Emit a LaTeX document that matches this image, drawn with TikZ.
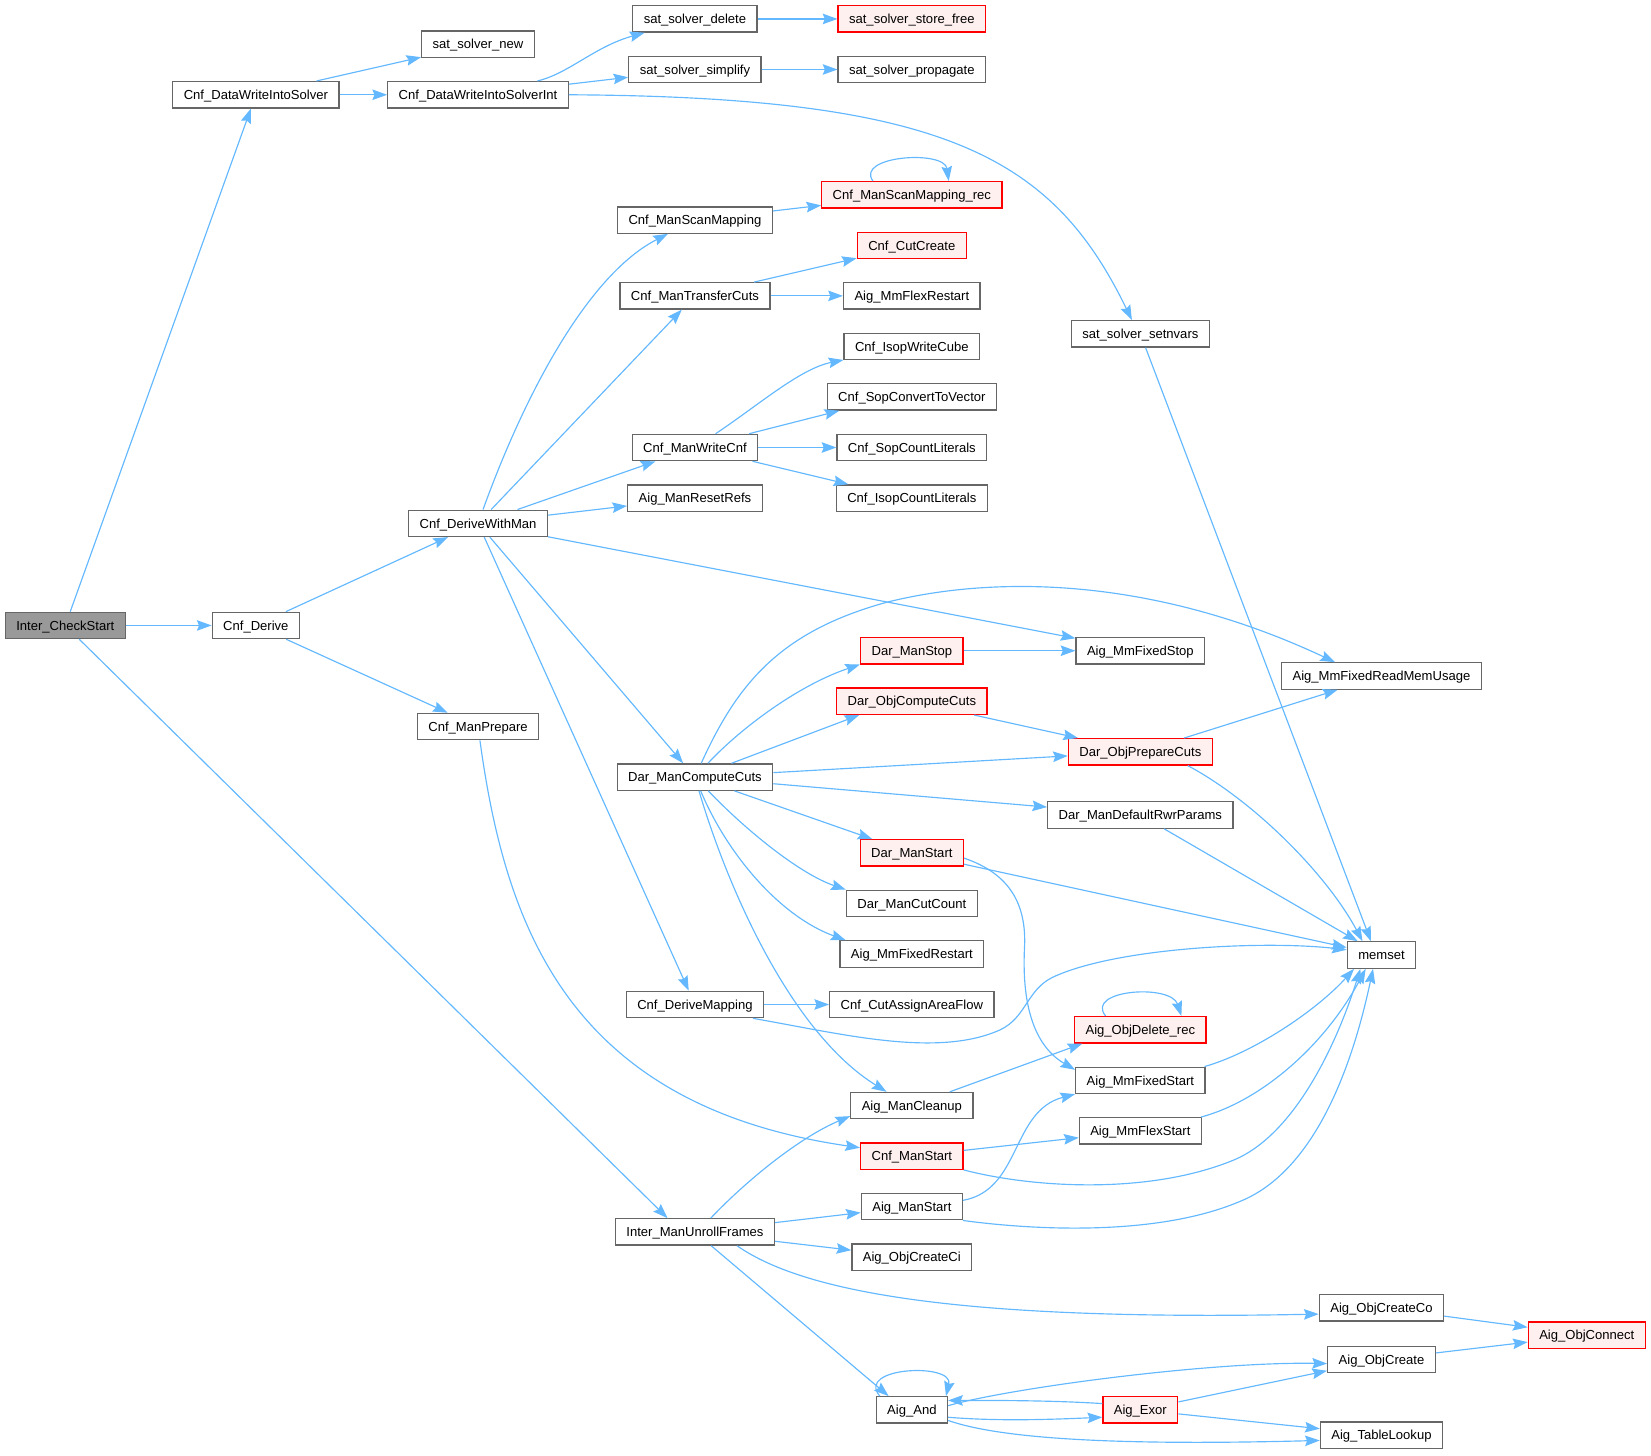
\documentclass[tikz,border=0pt]{standalone}
\usepackage{fontspec}
\setmainfont{Liberation Sans}
\usetikzlibrary{calc,arrows.meta}
\definecolor{edgeblue}{HTML}{63B8FF}
\definecolor{boxgray}{HTML}{666666}
\definecolor{boxred}{HTML}{FF0000}
\definecolor{redfill}{HTML}{FFF0F0}
\definecolor{grayfill}{HTML}{999999}
\tikzset{
  box/.style={draw=boxgray, line width=0.6pt, fill=white, font={\fontsize{6.2pt}{7pt}\selectfont},
    inner xsep=5.2pt, inner ysep=0pt, minimum height=12.5pt, text height=4.45pt, text depth=0pt},
  redbox/.style={box, draw=boxred, fill=redfill},
  graybox/.style={box, fill=grayfill},
  e/.style={draw=edgeblue, line width=0.55pt, -{Stealth[length=7pt,width=5pt,inset=1pt]}},
}
\begin{document}
\begin{tikzpicture}[x=0.5pt,y=-0.5pt]
\useasboundingbox (0,0) rectangle (1568,1382);
% nodes
\node[graybox] (ics) at (62,594) {Inter\_CheckStart};
\node[box] (dwis) at (243,90) {Cnf\_DataWriteIntoSolver};
\node[box] (ssnew) at (454,42) {sat\_solver\_new};
\node[box] (dwisi) at (454,90) {Cnf\_DataWriteIntoSolverInt};
\node[box] (ssdel) at (660,18) {sat\_solver\_delete};
\node[redbox] (sssf) at (866,18) {sat\_solver\_store\_free};
\node[box] (sssimp) at (660,66) {sat\_solver\_simplify};
\node[box] (ssprop) at (866,66) {sat\_solver\_propagate};
\node[redbox] (scanrec) at (866,185) {Cnf\_ManScanMapping\_rec};
\node[box] (cnfscan) at (660,209) {Cnf\_ManScanMapping};
\node[redbox] (cutcreate) at (866,233) {Cnf\_CutCreate};
\node[box] (transfer) at (660,281) {Cnf\_ManTransferCuts};
\node[box] (flexrestart) at (866,281) {Aig\_MmFlexRestart};
\node[box] (setnvars) at (1083,317) {sat\_solver\_setnvars};
\node[box] (isopwrite) at (866,329) {Cnf\_IsopWriteCube};
\node[box] (sopconv) at (866,377) {Cnf\_SopConvertToVector};
\node[box] (writecnf) at (660,425) {Cnf\_ManWriteCnf};
\node[box] (sopcount) at (866,425) {Cnf\_SopCountLiterals};
\node[box] (resetrefs) at (660,473) {Aig\_ManResetRefs};
\node[box] (isopcount) at (866,473) {Cnf\_IsopCountLiterals};
\node[box] (dwm) at (454,497) {Cnf\_DeriveWithMan};
\node[box] (derive) at (243,594) {Cnf\_Derive};
\node[redbox] (darstop) at (866,618) {Dar\_ManStop};
\node[box] (fixedstop) at (1083,618) {Aig\_MmFixedStop};
\node[box] (readmem) at (1312,642) {Aig\_MmFixedReadMemUsage};
\node[redbox] (objcompute) at (866,666) {Dar\_ObjComputeCuts};
\node[box] (prepare) at (454,690) {Cnf\_ManPrepare};
\node[redbox] (objprep) at (1083,714) {Dar\_ObjPrepareCuts};
\node[box] (dmcc) at (660,738) {Dar\_ManComputeCuts};
\node[box] (defrwr) at (1083,774) {Dar\_ManDefaultRwrParams};
\node[redbox] (darstart) at (866,810) {Dar\_ManStart};
\node[box] (cutcount) at (866,858) {Dar\_ManCutCount};
\node[box] (memset) at (1312,907) {memset};
\node[box] (fixedrestart) at (866,906) {Aig\_MmFixedRestart};
\node[box] (derivemap) at (660,954) {Cnf\_DeriveMapping};
\node[box] (areaflow) at (866,954) {Cnf\_CutAssignAreaFlow};
\node[redbox] (objdel) at (1083,978) {Aig\_ObjDelete\_rec};
\node[box] (fixedstart) at (1083,1026) {Aig\_MmFixedStart};
\node[box] (cleanup) at (866,1050) {Aig\_ManCleanup};
\node[box] (flexstart) at (1083,1074) {Aig\_MmFlexStart};
\node[redbox] (cnfmanstart) at (866,1098) {Cnf\_ManStart};
\node[box] (aigmanstart) at (866,1146) {Aig\_ManStart};
\node[box] (unroll) at (660,1170) {Inter\_ManUnrollFrames};
\node[box] (createci) at (866,1194) {Aig\_ObjCreateCi};
\node[box] (createco) at (1312,1242) {Aig\_ObjCreateCo};
\node[redbox] (objconnect) at (1507,1268) {Aig\_ObjConnect};
\node[box] (objcreate) at (1312,1291) {Aig\_ObjCreate};
\node[box] (aigand) at (866,1339) {Aig\_And};
\node[redbox] (exor) at (1083,1339) {Aig\_Exor};
\node[box] (tablelookup) at (1312,1363) {Aig\_TableLookup};
% edges
\draw[e] (ics) -- (dwis);
\draw[e] (ics) -- (derive);
\draw[e] (ics) -- ($(unroll.north)+(-26,0)$);
\draw[e] (dwis) -- (ssnew);
\draw[e] (dwis) -- (dwisi);
\draw[e] (dwisi) .. controls (540,70) and (565,44) .. (ssdel);
\draw[e] (dwisi) -- (sssimp);
\draw[e] (dwisi.east) .. controls (900,92) and (1000,150) .. ($(setnvars.north)+(-8,0)$);
\draw[e] (ssdel) -- (sssf);
\draw[e] (sssimp) -- (ssprop);
\draw[e] (setnvars) -- ($(memset.north)+(-10,0)$);
\draw[e] (derive) -- (dwm);
\draw[e] (derive) -- (prepare);
\draw[e] (dwm) .. controls (500,370) and (560,260) .. (cnfscan);
\draw[e] (dwm) -- (transfer);
\draw[e] (dwm) -- (writecnf);
\draw[e] (dwm) -- (resetrefs);
\draw[e] (dwm) -- (fixedstop);
\draw[e] (dwm) -- (dmcc);
\draw[e] (dwm) -- (derivemap);
\draw[e] (cnfscan) -- (scanrec);
\draw[e] ($(scanrec.north)+(-37,0)$) .. controls (812,148) and (897,142) .. ($(scanrec.north)+(35,0)$);
\draw[e] (transfer) -- (cutcreate);
\draw[e] (transfer) -- (flexrestart);
\draw[e] (writecnf) .. controls (720,385) and (760,350) .. (isopwrite);
\draw[e] (writecnf) -- ($(sopconv.south west)+(12,0)$);
\draw[e] (writecnf) -- (sopcount);
\draw[e] (writecnf) -- ($(isopcount.north west)+(12,0)$);
\draw[e] (dmcc) .. controls (700,650) and (740,600) .. (842,572) .. controls (950,545) and (1100,550) .. ($(readmem.north)+(-44,0)$);
\draw[e] (dmcc) .. controls (705,690) and (760,650) .. (darstop.south west);
\draw[e] (dmcc) -- ($(objcompute.south)+(-50,0)$);
\draw[e] (dmcc) -- (objprep);
\draw[e] (dmcc) -- (defrwr);
\draw[e] (dmcc) -- (darstart);
\draw[e] (dmcc) .. controls (710,790) and (760,830) .. (cutcount.north west);
\draw[e] (dmcc) .. controls (690,810) and (740,870) .. ($(fixedrestart.north west)+(6,0)$);
\draw[e] (dmcc) .. controls (690,840) and (750,980) .. ($(cleanup.north)+(-24,0)$);
\draw[e] (darstop) -- (fixedstop);
\draw[e] (objcompute) -- (objprep);
\draw[e] (objprep) -- (readmem);
\draw[e] ($(objprep.south)+(45,0)$) .. controls (1190,760) and (1260,830) .. ($(memset.north)+(-18,0)$);
\draw[e] (defrwr) -- (memset);
\draw[e] (darstart) -- (memset);
\draw[e] ($(darstart.east)+(0,5)$) .. controls (960,830) and (975,860) .. (973,900) .. controls (970,960) and (985,995) .. ($(fixedstart.west)+(0,-10)$);
\draw[e] (prepare) .. controls (480,880) and (540,1050) .. ($(cnfmanstart.west)+(0,-8)$);
\draw[e] (derivemap) -- (areaflow);
\draw[e] ($(derivemap.south)+(55,0)$) .. controls (800,982) and (890,1005) .. (950,978) .. controls (975,966) and (975,940) .. (1000,928) .. controls (1060,900) and (1200,893) .. ($(memset.west)+(0,-5)$);
\draw[e] ($(objdel.north)+(-33,0)$) .. controls (1030,940) and (1112,934) .. ($(objdel.north)+(39,0)$);
\draw[e] ($(fixedstart.north east)+(-1,0)$) .. controls (1190,1000) and (1250,960) .. ($(memset.south)+(-26,0)$);
\draw[e] ($(flexstart.north east)+(-1,0)$) .. controls (1200,1045) and (1260,990) .. ($(memset.south)+(-15,0)$);
\draw[e] (cleanup) -- ($(objdel.south west)+(8,0)$);
\draw[e] (cnfmanstart) -- (flexstart);
\draw[e] (cnfmanstart.south east) .. controls (980,1128) and (1090,1135) .. (1171,1102) .. controls (1230,1078) and (1270,990) .. ($(memset.south)+(-20,0)$);
\draw[e] ($(aigmanstart.east)+(0,-6)$) .. controls (970,1130) and (960,1055) .. (fixedstart.south west);
\draw[e] (aigmanstart.south east) .. controls (980,1168) and (1100,1175) .. (1180,1140) .. controls (1250,1110) and (1285,1010) .. ($(memset.south)+(-8,0)$);
\draw[e] ($(unroll.north)+(15,0)$) .. controls (710,1120) and (760,1080) .. ($(cleanup.west)+(0,10)$);
\draw[e] (unroll) -- (aigmanstart);
\draw[e] (unroll) -- (createci);
\draw[e] ($(unroll.south)+(40,0)$) .. controls (760,1225) and (900,1255) .. ($(createco.west)+(0,6)$);
\draw[e] (unroll) -- ($(aigand.north)+(-22,0)$);
\draw[e] (createco) -- (objconnect);
\draw[e] (objcreate) -- (objconnect);
\draw[e] ($(aigand.north west)+(4,0)$) .. controls (812,1298) and (906,1294) .. ($(aigand.north east)+(-2,0)$);
\draw[e] ($(aigand.east)+(0,-4)$) .. controls (960,1318) and (1150,1293) .. ($(objcreate.west)+(0,4)$);
\draw[e] ($(aigand.east)+(0,7)$) .. controls (950,1350) and (1000,1348) .. ($(exor.west)+(0,7)$);
\draw[e] ($(exor.west)+(0,-6)$) .. controls (1000,1330) and (950,1330) .. ($(aigand.east)+(0,-9)$);
\draw[e] ($(aigand.east)+(0,10)$) .. controls (960,1370) and (1100,1372) .. ($(tablelookup.west)+(0,5)$);
\draw[e] (exor) -- (objcreate);
\draw[e] (exor) -- (tablelookup);
\end{tikzpicture}
\end{document}
